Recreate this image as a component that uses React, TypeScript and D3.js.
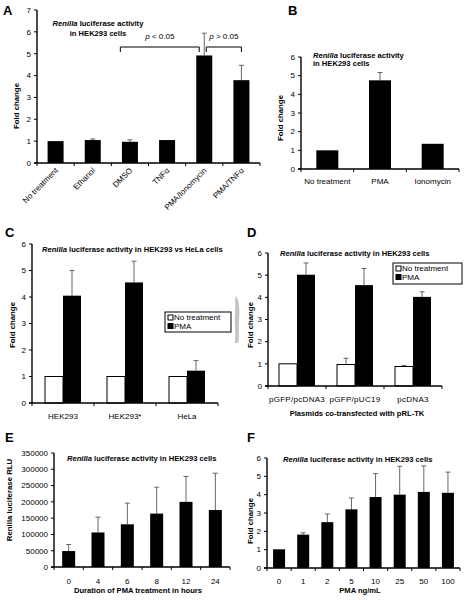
import React from "react";
import * as d3 from "d3";

// ---------- DATA ----------
const catsA = ["No treatment", "Ethanol", "DMSO", "TNFα", "PMA/Ionomycin", "PMA/TNFα"];
const valsA = [1, 1.05, 0.97, 1.05, 4.92, 3.79];
const errA = [0, 0.05, 0.09, 0, 1.02, 0.68];
const ticksA = [0, 1, 2, 3, 4, 5, 6, 7];

const catsB = ["No treatment", "PMA", "Ionomycin"];
const valsB = [1, 4.75, 1.35];
const errB = [0, 0.42, 0];
const ticksB = [0, 1, 2, 3, 4, 5, 6];

const catsC = ["HEK293", "HEK293*", "HeLa"];
const noTreatC = [1, 1, 1];
const pmaC = [4.05, 4.55, 1.22];
const pmaErrC = [0.95, 0.8, 0.38];
const ticksC = [0, 1, 2, 3, 4, 5, 6];

const catsD = ["pGFP/pcDNA3", "pGFP/pUC19", "pcDNA3"];
const noTreatD = [1, 0.97, 0.88];
const noTreatErrD = [0, 0.28, 0.05];
const pmaD = [5.02, 4.55, 4.02];
const pmaErrD = [0.53, 0.75, 0.23];
const ticksD = [0, 1, 2, 3, 4, 5, 6];

const catsE = ["0", "4", "6", "8", "12", "24"];
const valsE = [49000, 106000, 131000, 164000, 200000, 175000];
const errE = [20000, 47000, 65000, 81000, 78000, 113000];
const ticksE = [0, 50000, 100000, 150000, 200000, 250000, 300000, 350000];

const catsF = ["0", "1", "2", "5", "10", "25", "50", "100"];
const valsF = [1.02, 1.82, 2.5, 3.2, 3.87, 4.0, 4.15, 4.1];
const errF = [0, 0.1, 0.45, 0.62, 1.28, 1.55, 1.42, 1.13];
const ticksF = [0, 1, 2, 3, 4, 5, 6];

const legendLabels = ["No treatment", "PMA"];

const FONT = "'Liberation Sans', Arial, sans-serif";
const TICK_FS = 8;
const ERR_COLOR = "#666";

function Title({ x, y, rest, anchor = "start" }: { x: number; y: number; rest: string; anchor?: string }) {
  return (
    <text x={x} y={y} fontFamily={FONT} fontSize={7.6} fontWeight="bold" textAnchor={anchor as any}>
      <tspan fontStyle="italic">Renilla</tspan>
      <tspan>{" " + rest}</tspan>
    </text>
  );
}

function YAxis({ y, x0, ticks }: { y: d3.ScaleLinear<number, number>; x0: number; ticks: number[] }) {
  const r = y.range();
  return (
    <g>
      <line x1={x0} x2={x0} y1={r[0]} y2={r[1]} stroke="#000" strokeWidth={1.4} />
      {ticks.map((t) => (
        <g key={t}>
          <line x1={x0 - 3} x2={x0} y1={y(t)} y2={y(t)} stroke="#000" strokeWidth={1} />
          <text x={x0 - 6} y={y(t)} dy="0.35em" textAnchor="end" fontFamily={FONT} fontSize={TICK_FS}>
            {String(t)}
          </text>
        </g>
      ))}
    </g>
  );
}

function XAxis({ x, y0, cats }: { x: d3.ScaleBand<string>; y0: number; cats: string[] }) {
  const r = x.range();
  const bounds = cats.map((c) => x(c) as number).concat([r[1]]);
  return (
    <g>
      <line x1={r[0] - 3} x2={r[1]} y1={y0} y2={y0} stroke="#000" strokeWidth={1.4} />
      {bounds.map((b, i) => (
        <line key={i} x1={b} x2={b} y1={y0} y2={y0 + 3} stroke="#000" strokeWidth={1} />
      ))}
    </g>
  );
}

function ErrBar({ cx, yTop, yBase, color = ERR_COLOR }: { cx: number; yTop: number; yBase: number; color?: string }) {
  return (
    <g stroke={color} strokeWidth={1}>
      <line x1={cx} x2={cx} y1={yBase} y2={yTop} />
      <line x1={cx - 2.5} x2={cx + 2.5} y1={yTop} y2={yTop} />
    </g>
  );
}

function SingleBars({ x, y, cats, vals, errs, bw }: any) {
  return (
    <g>
      {cats.map((c: string, i: number) => {
        const cx = (x(c) as number) + x.bandwidth() / 2;
        return (
          <g key={c}>
            {errs[i] > 0 && <ErrBar cx={cx} yTop={y(vals[i] + errs[i])} yBase={y(vals[i])} />}
            <rect x={cx - bw / 2} y={y(vals[i])} width={bw} height={y(0) - y(vals[i])} fill="#000" />
          </g>
        );
      })}
    </g>
  );
}

function GroupBars({ x, y, cats, a, aErr, b, bErr, bw }: any) {
  return (
    <g>
      {cats.map((c: string, i: number) => {
        const cx = (x(c) as number) + x.bandwidth() / 2;
        return (
          <g key={c}>
            {aErr[i] > 0 && <ErrBar cx={cx - bw / 2} yTop={y(a[i] + aErr[i])} yBase={y(a[i])} />}
            {bErr[i] > 0 && <ErrBar cx={cx + bw / 2} yTop={y(b[i] + bErr[i])} yBase={y(b[i])} />}
            <rect x={cx - bw} y={y(a[i])} width={bw} height={y(0) - y(a[i])} fill="#fff" stroke="#000" strokeWidth={1} />
            <rect x={cx} y={y(b[i])} width={bw} height={y(0) - y(b[i])} fill="#000" />
          </g>
        );
      })}
    </g>
  );
}

function Legend({ x, y, w, h }: { x: number; y: number; w: number; h: number }) {
  return (
    <g>
      <rect x={x} y={y} width={w} height={h} fill="#fff" stroke="#000" strokeWidth={1} />
      {legendLabels.map((l, i) => (
        <g key={l}>
          <rect x={x + 3} y={y + 3 + i * 8.5} width={5} height={5} fill={i === 0 ? "#fff" : "#000"} stroke="#000" strokeWidth={1} />
          <text x={x + 9} y={y + 5.5 + i * 8.5} dy="0.35em" fontFamily={FONT} fontSize={TICK_FS}>{l}</text>
        </g>
      ))}
    </g>
  );
}

function PanelLetter({ x, y, t }: { x: number; y: number; t: string }) {
  return <text x={x} y={y} fontFamily={FONT} fontSize={13} fontWeight="bold">{t}</text>;
}

function YTitle({ x, y, t }: { x: number; y: number; t: string }) {
  return (
    <text transform={`translate(${x},${y}) rotate(-90)`} textAnchor="middle" fontFamily={FONT} fontSize={7.8} fontWeight="bold">
      {t}
    </text>
  );
}

export default function App() {
  const xA = d3.scaleBand<string>().domain(catsA).range([37, 260]);
  const yA = d3.scaleLinear().domain([0, 7]).range([163, 10]);
  const xB = d3.scaleBand<string>().domain(catsB).range([301, 459]);
  const yB = d3.scaleLinear().domain([0, 6]).range([169, 57]);
  const xC = d3.scaleBand<string>().domain(catsC).range([32, 218]);
  const yC = d3.scaleLinear().domain([0, 6]).range([403, 244]);
  const xD = d3.scaleBand<string>().domain(catsD).range([268, 442]);
  const yD = d3.scaleLinear().domain([0, 6]).range([386, 253]);
  const xE = d3.scaleBand<string>().domain(catsE).range([54, 230]);
  const yE = d3.scaleLinear().domain([0, 350000]).range([567, 453]);
  const xF = d3.scaleBand<string>().domain(catsF).range([267, 460]);
  const yF = d3.scaleLinear().domain([0, 6]).range([568, 458]);

  const pA1 = [xA("DMSO")! + 9, xA("PMA/Ionomycin")! + xA.bandwidth() / 2 - 5];
  const pA2 = [xA("PMA/Ionomycin")! + xA.bandwidth() / 2 + 2, xA("PMA/TNFα")! + xA.bandwidth() / 2];

  return (
    <svg width={466} height={600} style={{ position: "absolute", left: 0, top: 0, background: "#fff" }}>
      <rect width={466} height={600} fill="#fff" />

      {/* Panel A */}
      <PanelLetter x={3} y={15} t="A" />
      <YTitle x={19} y={106} t="Fold change" />
      <SingleBars x={xA} y={yA} cats={catsA} vals={valsA} errs={errA} bw={16} />
      <YAxis y={yA} x0={37} ticks={ticksA} />
      <XAxis x={xA} y0={163} cats={catsA} />
      {catsA.map((c) => (
        <text key={c} transform={`translate(${xA(c)! + xA.bandwidth() / 2 + 3},${171}) rotate(-45)`} textAnchor="end" fontFamily={FONT} fontSize={TICK_FS}>
          {c}
        </text>
      ))}
      <Title x={98} y={26} rest="luciferase activity" anchor="middle" />
      <text x={98} y={36} textAnchor="middle" fontFamily={FONT} fontSize={7.6} fontWeight="bold">in HEK293 cells</text>
      <path d={`M${pA1[0]},52 V47 H${pA1[1]} V52`} fill="none" stroke="#000" strokeWidth={1} />
      <text x={(pA1[0] + pA1[1]) / 2} y={39} textAnchor="middle" fontFamily={FONT} fontSize={TICK_FS}>
        <tspan fontStyle="italic">p</tspan> &lt; 0.05
      </text>
      <path d={`M${pA2[0]},52 V47 H${pA2[1]} V52`} fill="none" stroke="#000" strokeWidth={1} />
      <text x={(pA2[0] + pA2[1]) / 2} y={39} textAnchor="middle" fontFamily={FONT} fontSize={TICK_FS}>
        <tspan fontStyle="italic">p</tspan> &gt; 0.05
      </text>

      {/* Panel B */}
      <PanelLetter x={288} y={15} t="B" />
      <YTitle x={283} y={118} t="Fold change" />
      <SingleBars x={xB} y={yB} cats={catsB} vals={valsB} errs={errB} bw={22} />
      <YAxis y={yB} x0={301} ticks={ticksB} />
      <XAxis x={xB} y0={169} cats={catsB} />
      {catsB.map((c) => (
        <text key={c} x={xB(c)! + xB.bandwidth() / 2} y={184} textAnchor="middle" fontFamily={FONT} fontSize={TICK_FS}>{c}</text>
      ))}
      <Title x={313} y={58} rest="luciferase activity" />
      <text x={313} y={66} fontFamily={FONT} fontSize={7.6} fontWeight="bold">in HEK293 cells</text>

      {/* Panel C */}
      <PanelLetter x={5} y={237} t="C" />
      <YTitle x={15} y={325} t="Fold change" />
      <GroupBars x={xC} y={yC} cats={catsC} a={noTreatC} aErr={[0, 0, 0]} b={pmaC} bErr={pmaErrC} bw={18} />
      <YAxis y={yC} x0={32} ticks={ticksC} />
      <XAxis x={xC} y0={403} cats={catsC} />
      {catsC.map((c) => (
        <text key={c} x={xC(c)! + xC.bandwidth() / 2} y={419} textAnchor="middle" fontFamily={FONT} fontSize={TICK_FS}>{c}</text>
      ))}
      <Title x={42} y={252} rest="luciferase activity in HEK293 vs HeLa cells" />
      <Legend x={165} y={312} w={66} h={20} />
      <path d="M236,296 C239,300 240,310 239,320 C238,330 240,338 238,343 L235,343 C236,333 234,322 235,312 C236,304 234,300 236,296 Z" fill="#c4c4c4" />

      {/* Panel D */}
      <PanelLetter x={247} y={237} t="D" />
      <YTitle x={253} y={325} t="Fold change" />
      <GroupBars x={xD} y={yD} cats={catsD} a={noTreatD} aErr={noTreatErrD} b={pmaD} bErr={pmaErrD} bw={18} />
      <YAxis y={yD} x0={268} ticks={ticksD} />
      <XAxis x={xD} y0={386} cats={catsD} />
      {catsD.map((c) => (
        <text key={c} x={xD(c)! + xD.bandwidth() / 2} y={402} textAnchor="middle" fontFamily={FONT} fontSize={TICK_FS} letterSpacing={0.3}>{c}</text>
      ))}
      <text x={357} y={416} textAnchor="middle" fontFamily={FONT} fontSize={7.6} fontWeight="bold">Plasmids co-transfected with pRL-TK</text>
      <Title x={280} y={256} rest="luciferase activity in HEK293 cells" />
      <Legend x={393} y={263} w={69} h={21} />

      {/* Panel E */}
      <PanelLetter x={5} y={442} t="E" />
      <YTitle x={12} y={500} t="Renilla luciferase RLU" />
      <SingleBars x={xE} y={yE} cats={catsE} vals={valsE} errs={errE} bw={13} />
      <YAxis y={yE} x0={54} ticks={ticksE} />
      <XAxis x={xE} y0={567} cats={catsE} />
      {catsE.map((c) => (
        <text key={c} x={xE(c)! + xE.bandwidth() / 2} y={584} textAnchor="middle" fontFamily={FONT} fontSize={TICK_FS}>{c}</text>
      ))}
      <text x={138} y={593} textAnchor="middle" fontFamily={FONT} fontSize={7.6} fontWeight="bold">Duration of PMA treatment in hours</text>
      <Title x={67} y={461} rest="luciferase activity in HEK293 cells" />

      {/* Panel F */}
      <PanelLetter x={247} y={442} t="F" />
      <YTitle x={253} y={521} t="Fold change" />
      <SingleBars x={xF} y={yF} cats={catsF} vals={valsF} errs={errF} bw={12} />
      <YAxis y={yF} x0={267} ticks={ticksF} />
      <XAxis x={xF} y0={568} cats={catsF} />
      {catsF.map((c) => (
        <text key={c} x={xF(c)! + xF.bandwidth() / 2} y={584} textAnchor="middle" fontFamily={FONT} fontSize={TICK_FS}>{c}</text>
      ))}
      <text x={360} y={593} textAnchor="middle" fontFamily={FONT} fontSize={7.6} fontWeight="bold">PMA ng/mL</text>
      <Title x={283} y={462} rest="luciferase activity in HEK293 cells" />
    </svg>
  );
}
